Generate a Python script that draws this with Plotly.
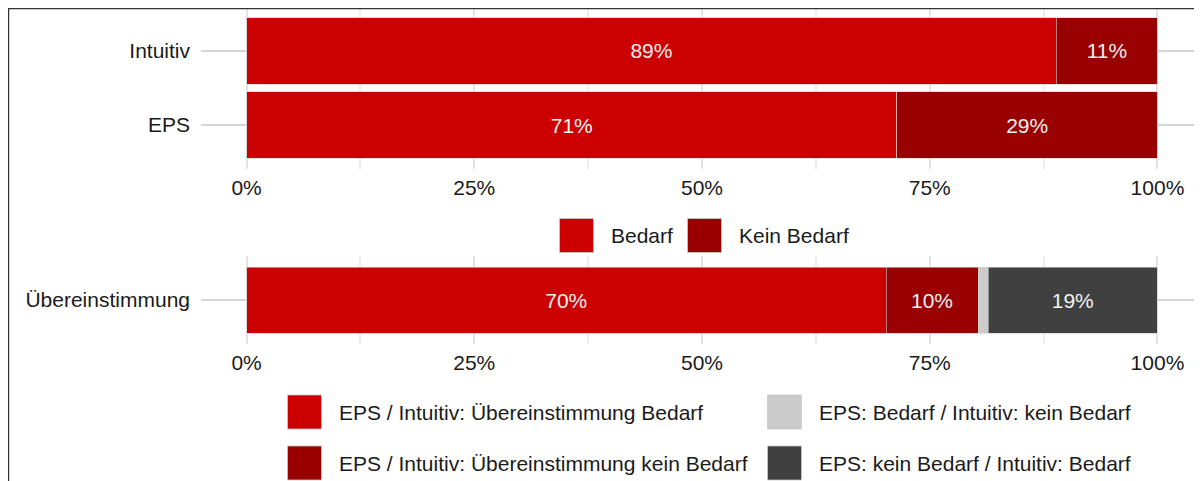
import plotly.graph_objects as go

# --- data -------------------------------------------------------------
top_categories = ["Intuitiv", "EPS"]
bedarf = [0.889, 0.714]
kein_bedarf = [0.111, 0.286]

bottom_category = ["Übereinstimmung"]
match_bedarf = [0.702]
match_kein_bedarf = [0.101]
eps_bedarf_int_kein = [0.011]
eps_kein_int_bedarf = [0.186]

x_ticks = [0, 0.25, 0.5, 0.75, 1.0]
x_tick_labels = ["0%", "25%", "50%", "75%", "100%"]

top_names = ["Bedarf", "Kein Bedarf"]
top_colors = ["#CC0000", "#990000"]
bottom_names = [
    "EPS / Intuitiv: Übereinstimmung Bedarf",
    "EPS / Intuitiv: Übereinstimmung kein Bedarf",
    "EPS: Bedarf / Intuitiv: kein Bedarf",
    "EPS: kein Bedarf / Intuitiv: Bedarf",
]
bottom_colors = ["#CC0000", "#990000", "#CCCCCC", "#404040"]

# --- figure geometry (screen pixels, page body has an 8px margin) --------
W, H = 1202, 481
OFF = 8
FONT = "Liberation Sans, Arial, sans-serif"


def px(x):
    return (x - OFF) / W


def py(y):
    return 1 - (y - OFF) / H


fig = go.Figure()

for name, color, vals in zip(top_names, top_colors, [bedarf, kein_bedarf]):
    fig.add_trace(go.Bar(
        y=top_categories, x=vals, name=name, orientation="h",
        marker=dict(color=color, line=dict(color="#cfcfcf", width=0.6)),
        texttemplate="%{x:.0%}", textposition="inside", insidetextanchor="middle",
        textfont=dict(color="#F2F2F2", size=21, family=FONT),
        width=0.9, xaxis="x", yaxis="y", showlegend=False,
    ))

bottom_vals = [match_bedarf, match_kein_bedarf, eps_bedarf_int_kein, eps_kein_int_bedarf]
for i, (name, color, vals) in enumerate(zip(bottom_names, bottom_colors, bottom_vals)):
    fig.add_trace(go.Bar(
        y=bottom_category, x=vals, name=name, orientation="h",
        marker=dict(color=color, line=dict(color="#cfcfcf", width=0.6)),
        texttemplate="%{x:.0%}", textposition="none" if i == 2 else "inside",
        insidetextanchor="middle",
        textfont=dict(color="#F2F2F2", size=21, family=FONT),
        width=0.9, xaxis="x2", yaxis="y2", showlegend=False,
    ))

xaxis_style = dict(
    range=[-0.05, 1.05], tickvals=x_ticks, ticktext=x_tick_labels,
    showgrid=True, gridcolor="#e3e3e3", gridwidth=1.6, zeroline=False,
    minor=dict(dtick=0.125, tick0=0, showgrid=True, gridcolor="#ececec", gridwidth=1.6),
    tickfont=dict(size=21, color="#1a1a1a", family=FONT),
    ticks="", ticklabelstandoff=4, fixedrange=True,
)
yaxis_style = dict(
    showgrid=True, gridcolor="#d4d4d4", gridwidth=1.6, zeroline=False,
    tickfont=dict(size=21, color="#1a1a1a", family=FONT),
    ticks="", ticklabelstandoff=10, fixedrange=True,
)

fig.update_layout(
    width=W, height=H, barmode="stack", bargap=0.1,
    paper_bgcolor="white", plot_bgcolor="white",
    margin=dict(l=0, r=0, t=0, b=0),
    font=dict(family=FONT, size=21, color="#1a1a1a"),
    xaxis=dict(domain=[px(201), px(1203)], anchor="y", **xaxis_style),
    yaxis=dict(domain=[py(169.4), py(8)], anchor="x",
               categoryorder="array", categoryarray=top_categories[::-1],
               range=[-0.6, 1.581], **yaxis_style),
    xaxis2=dict(domain=[px(201), px(1203)], anchor="y2", **xaxis_style),
    yaxis2=dict(domain=[py(344), py(256)], anchor="x2",
                range=[-0.6, 0.6], **yaxis_style),
)

# --- legends drawn as swatches + labels ---------------------------------
SW = 34  # swatch size


def legend_item(x0, y0, color, label, text_dx):
    fig.add_shape(type="rect", xref="paper", yref="paper",
                  x0=px(x0), x1=px(x0 + SW), y0=py(y0 + SW), y1=py(y0),
                  fillcolor=color, line=dict(color="#c8c8c8", width=0.8))
    fig.add_annotation(xref="paper", yref="paper", x=px(x0 + text_dx), y=py(y0 + SW / 2),
                       text=label, showarrow=False, xanchor="left", yanchor="middle",
                       font=dict(size=21, color="#1a1a1a", family=FONT))


top_legend_x = [559.5, 687.5]
for x0, name, color in zip(top_legend_x, top_names, top_colors):
    legend_item(x0, 218.5, color, name, 49)

bottom_legend_pos = [(287.5, 395), (287.5, 446), (767.5, 395), (767.5, 446)]
for (x0, y0), name, color in zip(bottom_legend_pos, bottom_names, bottom_colors):
    legend_item(x0, y0, color, name, 49)

# outer frame (top + left edges visible)
fig.add_shape(type="rect", xref="paper", yref="paper",
              x0=px(8.6), x1=1.2, y0=-0.2, y1=py(8.6),
              line=dict(color="#333333", width=1.2), layer="above")

fig.write_html("out.html")
